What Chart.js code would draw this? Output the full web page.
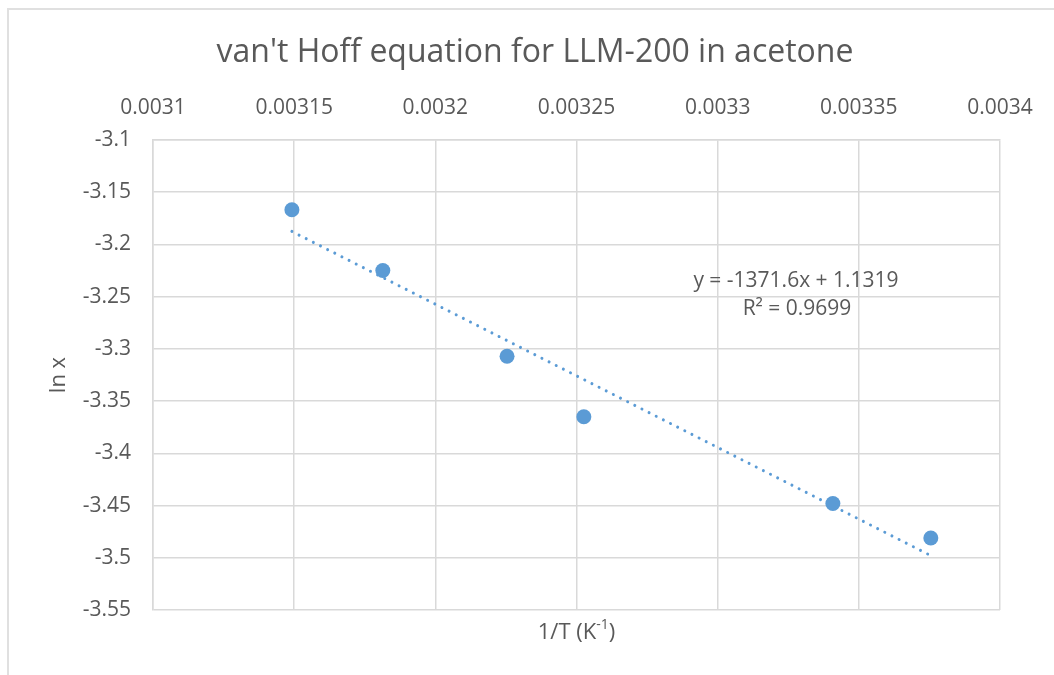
<!DOCTYPE html>
<html>
<head>
<meta charset="utf-8">
<script src="https://cdn.jsdelivr.net/npm/chart.js@4/dist/chart.umd.min.js"></script>
<style>
    html, body { margin: 0; padding: 0; background: #fff; }
    #wrap { position: relative; width: 1054px; height: 675px; }
    #frame {
        position: absolute; left: 7px; top: 8px; right: -5px; bottom: -5px;
        border-left: 2px solid #e0e0e0; border-top: 2px solid #e0e0e0;
    }
    canvas { position: absolute; left: 0; top: 0; }
</style>
</head>
<body>
<div id="wrap">
    <canvas id="chart" width="1054" height="675"></canvas>
    <div id="frame"></div>
</div>
<script>
    // 1/T (K^-1) and ln x
    const invT = [0.0031492, 0.0031814, 0.0032254, 0.0032526, 0.0033408, 0.0033755];
    const lnX = [-3.1668, -3.2250, -3.3070, -3.3650, -3.4480, -3.4810];

    // excel linear trendline shown on the chart
    const trendSlope = -1371.6;
    const trendIntercept = 1.1319;
    const trendEquation = 'y = -1371.6x + 1.1319';
    const trendR2 = 'R\u00b2 = 0.9699';

    const xMin = 0.0031, xMax = 0.0034, xStep = 0.00005;
    const yMin = -3.55, yMax = -3.1, yStep = 0.05;

    const titleText = "van't Hoff equation for LLM-200 in acetone";
    const FONT = '"Open Sans", "Noto Sans", sans-serif';
    const TEXT = '#595959';
    const BLUE = '#5B9BD5';
    const GRID = '#d9d9d9';

    const points = invT.map((x, i) => ({ x: x, y: lnX[i] }));
    const trendX = [invT[0], invT[invT.length - 1]];
    const trend = trendX.map(x => ({ x: x, y: trendSlope * x + trendIntercept }));

    const textPlugin = {
        id: 'texts',
        afterDraw(chart) {
            const ctx = chart.ctx;
            const area = chart.chartArea;
            ctx.save();
            ctx.fillStyle = TEXT;
            ctx.textBaseline = 'middle';
            ctx.textAlign = 'center';

            ctx.font = '32px ' + FONT;
            ctx.fillText(titleText, 535, 53);

            ctx.font = '21px ' + FONT;
            ctx.fillText(trendEquation, 796, 281);
            ctx.fillText(trendR2, 797, 309);

            // x axis title with superscript
            const cx = (area.left + area.right) / 2;
            const main = '1/T (K', sup = '-1', end = ')';
            ctx.font = '22px ' + FONT;
            const w1 = ctx.measureText(main).width;
            const w3 = ctx.measureText(end).width;
            ctx.font = '14px ' + FONT;
            const w2 = ctx.measureText(sup).width;
            let x0 = cx - (w1 + w2 + w3) / 2;
            ctx.textAlign = 'left';
            ctx.font = '22px ' + FONT;
            ctx.fillText(main, x0, 633);
            ctx.font = '14px ' + FONT;
            ctx.fillText(sup, x0 + w1, 625);
            ctx.font = '22px ' + FONT;
            ctx.fillText(end, x0 + w1 + w2, 633);

            // y axis title
            ctx.translate(59, (area.top + area.bottom) / 2);
            ctx.rotate(-Math.PI / 2);
            ctx.textAlign = 'center';
            ctx.fillText('ln x', 0, 0);
            ctx.restore();
        }
    };

    new Chart(document.getElementById('chart').getContext('2d'), {
        type: 'scatter',
        data: {
            datasets: [{
                label: 'ln x',
                data: points,
                backgroundColor: BLUE,
                borderColor: BLUE,
                borderWidth: 0,
                pointRadius: 7.5,
                pointHoverRadius: 7.5,
                order: 1
            }, {
                type: 'line',
                label: 'Linear (ln x)',
                data: trend,
                borderColor: BLUE,
                borderWidth: 3,
                borderDash: [0.01, 8],
                borderCapStyle: 'round',
                pointRadius: 0,
                fill: false,
                order: 2
            }]
        },
        options: {
            responsive: false,
            animation: false,
            layout: { padding: { left: 0, right: 54, top: 0, bottom: 65 } },
            plugins: {
                legend: { display: false },
                title: { display: false },
                tooltip: { enabled: false }
            },
            scales: {
                x: {
                    type: 'linear',
                    position: 'top',
                    min: xMin,
                    max: xMax,
                    afterFit(scale) { scale.height = 140; },
                    grid: { color: GRID, lineWidth: 1.5, drawTicks: false },
                    border: { color: GRID, width: 1.5 },
                    ticks: {
                        stepSize: xStep,
                        padding: 19,
                        maxRotation: 0,
                        autoSkip: false,
                        color: TEXT,
                        font: { family: FONT, size: 21 },
                        callback: v => String(Number(v.toFixed(5)))
                    }
                },
                y: {
                    type: 'linear',
                    min: yMin,
                    max: yMax,
                    afterFit(scale) { scale.width = 153; },
                    grid: { color: GRID, lineWidth: 1.5, drawTicks: false },
                    border: { color: GRID, width: 1.5 },
                    ticks: {
                        stepSize: yStep,
                        padding: 22,
                        color: TEXT,
                        font: { family: FONT, size: 21 },
                        callback: v => String(Number(v.toFixed(2)))
                    }
                }
            }
        },
        plugins: [textPlugin]
    });
</script>
</body>
</html>
